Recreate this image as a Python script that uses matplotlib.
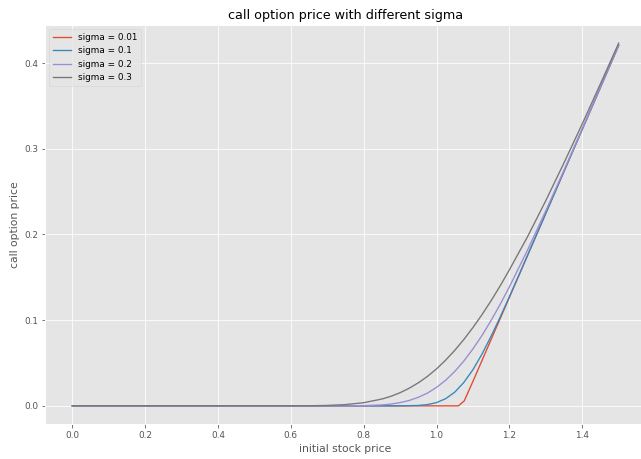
import matplotlib
matplotlib.use("Agg")
import matplotlib.pyplot as plt

plt.style.use("ggplot")
plt.rcParams.update({
    "xtick.labelsize": 8.9,
    "ytick.labelsize": 8.9,
    "axes.labelsize": 10.7,
    "axes.titlesize": 12.8,
    "legend.fontsize": 8.9,
    "lines.linewidth": 1.35,
})

# values
x_red = [0.0, 0.5, 1.0, 1.06, 1.076, 1.1, 1.2, 1.3, 1.4, 1.5]
y_red = [0.0, 0.0, 0.0, 0.0, 0.0058, 0.0287, 0.1267, 0.2248, 0.3227, 0.4207]

x_blue = [0.0, 0.5, 0.9, 0.95, 0.975, 1.0, 1.025, 1.05, 1.075, 1.1, 1.125, 1.15, 1.175, 1.2, 1.225,
          1.25, 1.3, 1.35, 1.4, 1.45, 1.5]
y_blue = [0.0, 0.0, 0.0, 0.0005, 0.0015, 0.0038, 0.0084, 0.0160, 0.0274, 0.0423, 0.0606, 0.0815, 0.1039, 0.1274, 0.1515,
          0.1758, 0.2247, 0.2738, 0.3227, 0.3717, 0.4207]

x_purple = [0.0, 0.5, 0.75, 0.8, 0.85, 0.875, 0.9, 0.925, 0.95, 0.975, 1.0, 1.025, 1.05, 1.075, 1.1, 1.125,
            1.15, 1.175, 1.2, 1.25, 1.3, 1.35, 1.4, 1.45, 1.5]
y_purple = [0.0, 0.0, 0.0, 0.0003, 0.0011, 0.0021, 0.0038, 0.0063, 0.0100, 0.0149, 0.0216, 0.0299, 0.0402, 0.0524, 0.0666, 0.0823,
            0.0999, 0.1188, 0.1389, 0.1820, 0.2277, 0.2751, 0.3233, 0.3720, 0.4209]

x_grey = [0.0, 0.5, 0.6, 0.65, 0.7, 0.75, 0.8, 0.85, 0.875, 0.9, 0.925, 0.95, 0.975, 1.0, 1.025, 1.05, 1.075,
          1.1, 1.125, 1.15, 1.175, 1.2, 1.25, 1.3, 1.35, 1.4, 1.45, 1.5]
y_grey = [0.0, 0.0, 0.0, 0.0001, 0.0005, 0.0015, 0.0037, 0.0080, 0.0112, 0.0154, 0.0206, 0.0269, 0.0344, 0.0432, 0.0534, 0.0648, 0.0775,
          0.0915, 0.1066, 0.1229, 0.1403, 0.1588, 0.1976, 0.2396, 0.2837, 0.3291, 0.3759, 0.4233]

sigmas = ["0.01", "0.1", "0.2", "0.3"]

fig = plt.figure(figsize=(641 / 72, 459 / 72), dpi=72)
ax = fig.add_axes([45 / 641, 35 / 459, 601 / 641, 399 / 459])

series = [(x_red, y_red), (x_blue, y_blue), (x_purple, y_purple), (x_grey, y_grey)]
for (xs, ys), s in zip(series, sigmas):
    ax.plot(xs, ys, label=f"sigma = {s}")

ax.set_xticks([0.0, 0.2, 0.4, 0.6, 0.8, 1.0, 1.2, 1.4])
ax.set_yticks([0.0, 0.1, 0.2, 0.3, 0.4])
ax.set_xlabel("initial stock price")
ax.set_ylabel("call option price")
ax.set_title("call option price with different sigma")
ax.legend(loc="upper left")

fig.savefig("out.png", dpi=72)
